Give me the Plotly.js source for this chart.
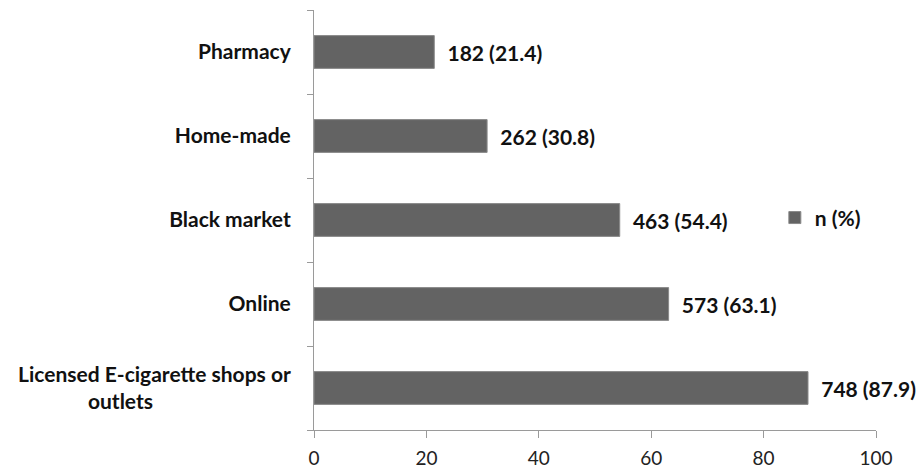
<!DOCTYPE html>
<html>
<head>
<meta charset="utf-8">
<script src="https://cdn.plot.ly/plotly-3.0.1.min.js"></script>
<style>html,body{margin:0;padding:0;background:#fff;}#chart{width:923px;height:469px;}</style>
</head>
<body>
<div id="chart"></div>
<script>
var categories = ["Licensed E-cigarette shops or<br>outlets" , "Online", "Black market", "Home-made", "Pharmacy"];
var counts = [748, 573, 463, 262, 182];
var percents = [87.9, 63.1, 54.4, 30.8, 21.4];
var xTicks = [0, 20, 40, 60, 80, 100];
var seriesName = "n (%)";

var pad = "\u00a0".repeat(27);
var yLabels = categories.map(function(c){
  return c.indexOf("<br>") >= 0 ? c.replace("<br>outlets", "<br>outlets" + pad) : c;
});
var labels = counts.map(function(n, i){ return "\u00a0\u00a0" + n + " (" + percents[i] + ")"; });

var FONT = "Lato, Carlito, sans-serif";

var trace = {
  type: "bar",
  orientation: "h",
  name: seriesName,
  y: yLabels,
  x: percents,
  text: labels,
  textposition: "outside",
  cliponaxis: false,
  textfont: {family: FONT, size: 21, color: "#111", weight: "bold"},
  marker: {color: "#636363", line: {color: "#8a8a8a", width: 1}},
  hoverinfo: "none"
};

var layout = {
  width: 923, height: 469,
  margin: {l: 314, r: 47, t: 10, b: 39},
  paper_bgcolor: "#fff", plot_bgcolor: "#fff",
  bargap: 0.61,
  showlegend: true,
  legend: {x: 0.82, y: 0.505, xanchor: "left", yanchor: "middle",
           font: {family: FONT, size: 21, color: "#111", weight: "bold"},
           itemwidth: 30, bgcolor: "rgba(0,0,0,0)"},
  xaxis: {
    range: [0, 100], tickvals: xTicks, ticktext: xTicks.map(String),
    showgrid: false, zeroline: false,
    showline: true, linecolor: "#9a9a9a", linewidth: 1,
    ticks: "outside", ticklen: 7, tickcolor: "#9a9a9a",
    ticklabelstandoff: 4,
    tickfont: {family: FONT, size: 19, color: "#222"},
    fixedrange: true
  },
  yaxis: {
    type: "category",
    categoryorder: "array", categoryarray: yLabels,
    showgrid: false, zeroline: false,
    showline: true, linecolor: "#9a9a9a", linewidth: 1,
    ticks: "outside", ticklen: 6, tickcolor: "#9a9a9a",
    tickson: "boundaries",
    ticklabelstandoff: 18,
    tickfont: {family: FONT, size: 21, color: "#111", weight: "bold"},
    fixedrange: true
  }
};

Plotly.newPlot("chart", [trace], layout, {displayModeBar: false, staticPlot: true});
</script>
</body>
</html>
